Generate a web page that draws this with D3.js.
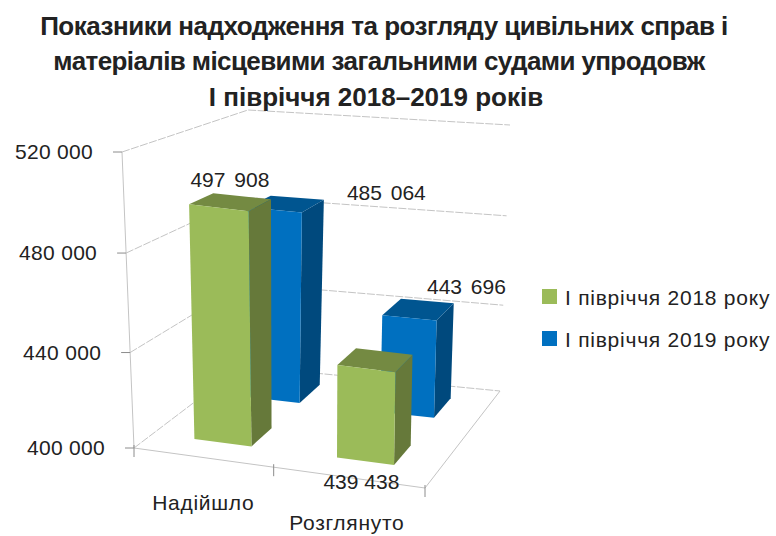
<!DOCTYPE html>
<html>
<head>
<meta charset="utf-8">
<script src="https://cdn.jsdelivr.net/npm/d3@7"></script>
<style>
  body { margin: 0; background: #fff; }
  text { font-family: "Liberation Sans", Arial, sans-serif; fill: #222; }
</style>
</head>
<body>
<div id="chart"></div>
<script>
var titleLines = [
  "Показники надходження та розгляду цивільних справ і",
  "матеріалів місцевими загальними судами упродовж",
  "І півріччя 2018–2019 років"
];
var categories = ["Надійшло", "Розглянуто"];
var seriesNames = ["І півріччя 2018 року", "І півріччя 2019 року"];
var values2018 = [497908, 439438];
var values2019 = [485064, 443696];
var yTicks = [400000, 440000, 480000, 520000];
var yTickLabels = ["400 000", "440 000", "480 000", "520 000"];
var valueLabels2018 = ["497 908", "439 438"];
var valueLabels2019 = ["485 064", "443 696"];

var svgWidth = 776;
var svgHeight = 536;

var svg = d3.select("#chart")
  .append("svg")
  .attr("width", svgWidth)
  .attr("height", svgHeight)
  .style("display", "block");

// corners of the 3d box on screen, [x, y]
var box = {
  fl0: [134, 448], fr0: [425, 488], br0: [500, 391], bl0: [242, 366],
  fl1: [122, 152], fr1: [431, 190], br1: [510, 125], bl1: [248, 110]
};

function mix(a, b, t) {
  return [a[0] + (b[0] - a[0]) * t, a[1] + (b[1] - a[1]) * t];
}

// u = along categories, v = depth, w = height, all 0..1
function project(u, v, w) {
  var bottom = mix(mix(box.fl0, box.fr0, u), mix(box.bl0, box.br0, u), v);
  var top = mix(mix(box.fl1, box.fr1, u), mix(box.bl1, box.br1, u), v);
  return mix(bottom, top, w);
}

// small exponent stands in for the perspective of the height axis
var riseScale = d3.scalePow().exponent(1.03).domain([0, 120000]).range([0, 1]);
function yScale(v) {
  return riseScale(v - 400000);
}
var xScale = d3.scaleBand().domain(categories).range([0, 0.99]).paddingInner(0.6).paddingOuter(0.29);
var zScale = d3.scaleBand().domain(seriesNames).range([0, 1.06]).paddingInner(0.583).paddingOuter(0.354);

var line = d3.line();
var gridColor = "#c4c4c4";
var tickColor = "#8c8c8c";

// back wall and side wall gridlines
var grid = svg.append("g");
yTicks.forEach(function(t) {
  var w = yScale(t);
  grid.append("path")
    .attr("d", line([project(0, 0, w), project(0, 1, w), project(1, 1, w)]))
    .attr("fill", "none")
    .attr("stroke", gridColor)
    .attr("stroke-dasharray", "8,1.5");
});

// floor
grid.append("path")
  .attr("d", line([project(0, 0, 0), project(1, 0, 0), project(1, 1, 0)]))
  .attr("fill", "none")
  .attr("stroke", gridColor);

// y axis
svg.append("path")
  .attr("d", line([project(0, 0, 0), project(0, 0, 1)]))
  .attr("fill", "none")
  .attr("stroke", gridColor);

yTicks.forEach(function(t, i) {
  var p = project(0, 0, yScale(t));
  svg.append("path")
    .attr("d", line([p, [p[0] - 9, p[1]]]))
    .attr("stroke", tickColor);
  svg.append("text")
    .attr("x", p[0] - 29)
    .attr("y", p[1] + 7)
    .attr("text-anchor", "end")
    .attr("font-size", 21)
    .attr("letter-spacing", 0.3)
    .text(yTickLabels[i]);
});

// x axis ticks
[0, 0.48, 1].forEach(function(u) {
  var p = project(u, 0, 0);
  svg.append("path")
    .attr("d", line([[p[0], p[1] - 3], [p[0], p[1] + 9]]))
    .attr("stroke", tickColor);
});

var catLabelDx = [-2, -4];
var catLabelDy = [36, 36];
categories.forEach(function(c, i) {
  var p = project(xScale(c) + xScale.bandwidth() / 2, 0, 0);
  svg.append("text")
    .attr("x", p[0] + catLabelDx[i])
    .attr("y", p[1] + catLabelDy[i] + 16)
    .attr("text-anchor", "middle")
    .attr("font-size", 21)
    .attr("letter-spacing", 0.7)
    .text(c);
});

// bars, far ones first
var seriesStyle = [
  { front: "#9bbb59", top: "#748a42", side: "#66793a" },
  { front: "#0070c0", top: "#005590", side: "#00497d" }
];

function drawBar(cat, series, value, style) {
  var u0 = xScale(cat), u1 = u0 + xScale.bandwidth();
  var v0 = zScale(series), v1 = v0 + zScale.bandwidth();
  var w = yScale(value);
  var g = svg.append("g");
  g.append("path").attr("fill", style.side)
    .attr("d", line([project(u1, v0, 0), project(u1, v1, 0), project(u1, v1, w), project(u1, v0, w)]) + "Z");
  g.append("path").attr("fill", style.top)
    .attr("d", line([project(u0, v0, w), project(u1, v0, w), project(u1, v1, w), project(u0, v1, w)]) + "Z");
  g.append("path").attr("fill", style.front)
    .attr("d", line([project(u0, v0, 0), project(u1, v0, 0), project(u1, v0, w), project(u0, v0, w)]) + "Z");
}

// back row first, then front row
categories.forEach(function(c, i) { drawBar(c, seriesNames[1], values2019[i], seriesStyle[1]); });
categories.forEach(function(c, i) { drawBar(c, seriesNames[0], values2018[i], seriesStyle[0]); });

// data labels, hand-moved away from the bars like in the original
var labelShift2018 = [[11, -21], [-5, 120]];
var labelShift2019 = [[112, -10], [57, -24]];
var labelSpacing2018 = [3, 0];
var labelSpacing2019 = [3, 3];

function drawValueLabels(series, vals, labels, shifts, spacing) {
  categories.forEach(function(c, i) {
    var p = project(xScale(c) + xScale.bandwidth() / 2, zScale(series), yScale(vals[i]));
    svg.append("text")
      .attr("x", p[0] + shifts[i][0])
      .attr("y", p[1] + shifts[i][1])
      .attr("text-anchor", "middle")
      .attr("font-size", 21)
      .attr("word-spacing", spacing[i])
      .text(labels[i]);
  });
}
drawValueLabels(seriesNames[0], values2018, valueLabels2018, labelShift2018, labelSpacing2018);
drawValueLabels(seriesNames[1], values2019, valueLabels2019, labelShift2019, labelSpacing2019);

// legend
var legendColors = ["#9bbb59", "#0070c0"];
seriesNames.forEach(function(name, i) {
  var y = 289 + i * 42;
  svg.append("rect")
    .attr("x", 542).attr("y", y)
    .attr("width", 15).attr("height", 15)
    .attr("fill", legendColors[i]);
  svg.append("text")
    .attr("x", 565).attr("y", y + 16)
    .attr("font-size", 21)
    .attr("letter-spacing", 0.75)
    .text(name);
});

// title
var titleX = [384, 379, 376];
var titleY = [35, 70, 106];
var titleSpacing = [-0.5, -0.6, 0];
titleLines.forEach(function(t, i) {
  svg.append("text")
    .attr("x", titleX[i])
    .attr("y", titleY[i])
    .attr("text-anchor", "middle")
    .attr("font-size", 26)
    .attr("letter-spacing", titleSpacing[i])
    .attr("font-weight", "bold")
    .attr("fill", "#111")
    .text(t);
});
</script>
</body>
</html>
